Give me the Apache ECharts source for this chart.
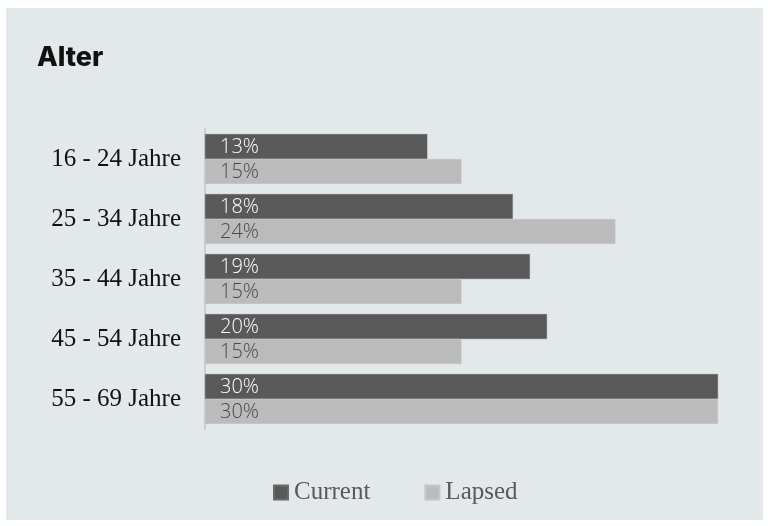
<!DOCTYPE html>
<html>
<head>
<meta charset="utf-8">
<script src="https://cdn.jsdelivr.net/npm/echarts@6/dist/echarts.min.js"></script>
<style>
  html, body { margin: 0; padding: 0; background: #ffffff; }
  #chart { width: 769px; height: 526px; }
</style>
</head>
<body>
<div id="chart"></div>
<script>
// Age groups and share of members per group (percent)
const ageGroups = ['16 - 24 Jahre', '25 - 34 Jahre', '35 - 44 Jahre', '45 - 54 Jahre', '55 - 69 Jahre'];
const currentValues = [13, 18, 19, 20, 30];
const lapsedValues = [15, 24, 15, 15, 30];
const seriesNames = ['Current', 'Lapsed'];

const chart = echarts.init(document.getElementById('chart'), null, { renderer: 'canvas' });

const serif = '"Liberation Serif", "DejaVu Serif", serif';
const sans = '"Open Sans", "Noto Sans", sans-serif';

function barSeries(name, values, color, edge, labelColor) {
  return {
    name: name,
    type: 'bar',
    data: values,
    barGap: '0%',
    barCategoryGap: '17%',
    itemStyle: { color: color, borderColor: edge, borderWidth: 0.5 },
    label: {
      show: true,
      position: 'insideLeft',
      offset: [10, 1],
      formatter: '{c}%',
      color: labelColor,
      fontFamily: sans,
      fontWeight: 300,
      fontSize: 20
    },
    emphasis: { disabled: true }
  };
}

chart.setOption({
  backgroundColor: '#ffffff',
  animation: false,
  graphic: [{
    type: 'rect',
    z: -10,
    shape: { x: 6, y: 8, width: 757, height: 512 },
    style: { fill: '#e3e8eb' }
  }],
  title: {
    text: 'Alter',
    left: 32,
    top: 39,
    textStyle: { fontFamily: '"Inter", "Open Sans", sans-serif', fontWeight: 800, fontSize: 27, color: '#111111' }
  },
  legend: {
    bottom: 16,
    left: 268,
    itemGap: 54,
    itemWidth: 14,
    itemHeight: 14,
    icon: 'rect',
    data: seriesNames,
    textStyle: { fontFamily: serif, fontSize: 25, color: '#595959', padding: [0, 0, 0, 1] }
  },
  grid: { left: 205, right: 51, top: 129, bottom: 97, containLabel: false },
  xAxis: {
    type: 'value',
    min: 0,
    max: 30,
    show: false
  },
  yAxis: {
    type: 'category',
    data: ageGroups,
    inverse: true,
    axisLine: { show: true, lineStyle: { color: '#cccccc', width: 2 } },
    axisTick: { show: false },
    axisLabel: { fontFamily: serif, fontSize: 25, color: '#111111', margin: 24 }
  },
  series: [
    barSeries(seriesNames[0], currentValues, '#595959', '#6a6a6a', '#ffffff'),
    barSeries(seriesNames[1], lapsedValues, '#bbbbbb', '#c6c6c6', '#4a4a4a')
  ]
});
</script>
</body>
</html>
